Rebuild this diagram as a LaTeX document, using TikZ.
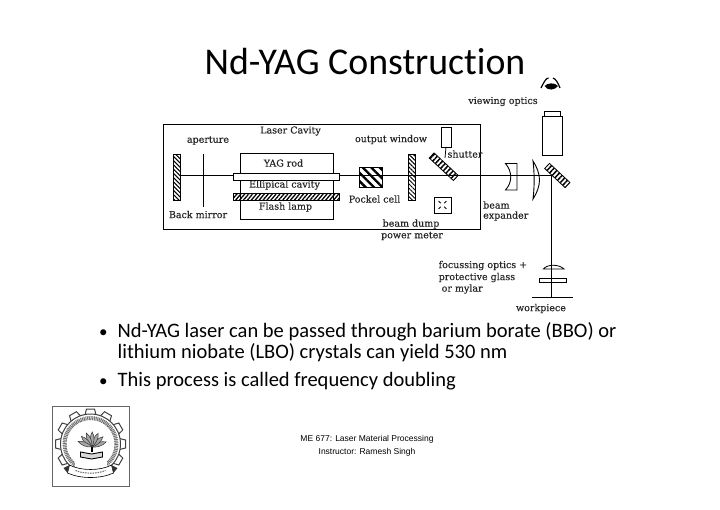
\documentclass[tikz,border=0pt]{standalone}
\usepackage{fontspec}
\setmainfont{Carlito}[Ligatures=NoCommon]
\newfontfamily\figfont{DejaVu Serif}[FakeBold=0.25]
\newfontfamily\footfont{Liberation Sans}
\usetikzlibrary{patterns.meta,calc}
\tikzset{
  figlabel/.style={font=\figfont\fontsize{9.5}{11}\selectfont,inner sep=0pt,text=black!85,align=left},
  bodyline/.style={anchor=base west,inner sep=0pt,font=\fontsize{20.5}{24}\selectfont},
  bulletmark/.style={anchor=base west,inner sep=0pt,font=\fontsize{17}{21}\selectfont},
  part/.style={draw,line width=0.8pt,inner sep=0pt,outer sep=0pt},
  mirror/.style={part,pattern={Lines[angle=-45,distance=3pt,line width=1pt]}},
  tilted/.style={part,minimum width=33pt,minimum height=7pt,rotate=-43,
    pattern={Lines[angle=47,distance=3.6pt,line width=1.5pt]}},
}
\begin{document}
\begin{tikzpicture}[x=1pt,y=-1pt]
  \useasboundingbox (0,0) rectangle (720,509);

  \node[font=\fontsize{37.8}{42}\selectfont,inner sep=0pt] (title) at (365,62) {Nd-YAG Construction};

  % cavity
  \draw[line width=0.8pt] (163.5,124) rectangle (480,229);
  \draw[line width=0.8pt] (240,153) rectangle (333,219);
  \node[mirror,minimum width=7pt,minimum height=46pt] (backmirror) at (177,177.5) {};
  \node[mirror,minimum width=7pt,minimum height=46pt] (window) at (411.5,177) {};
  \node[part,fill=white,minimum width=106pt,minimum height=7pt] (rod) at (286,176.5) {};
  \node[part,minimum width=106pt,minimum height=7pt,
    pattern={Lines[angle=50,distance=3pt,line width=1.3pt]}] (lamp) at (286,197) {};
  \node[part,minimum width=23pt,minimum height=20pt,
    pattern={Lines[angle=-45,distance=6pt,line width=2.4pt]}] (pockel) at (370.5,177) {};
  \node[part,minimum width=10pt,minimum height=20pt] (shutterbox) at (446,137) {};
  \node[tilted] (shutter) at (443.7,166.7) {};
  \node[tilted,minimum width=28pt] (foldmirror) at (557.3,175.5) {};
  \node[part,minimum width=17pt,minimum height=16pt] (dump) at (442.5,205) {};
  \foreach \a in {45,135,225,315}
    \draw[line width=0.8pt] ($(dump)+(\a:2.5)$) -- ($(dump)+(\a:5.5)$);
  \coordinate (beamturn) at (551.7,175.7);
  \coordinate (beamend) at (551.7,297.7);
  \draw[line width=0.8pt] (backmirror.east|-beamturn) -- (rod.west|-beamturn);
  \draw[line width=0.8pt] (rod.east|-beamturn) -- (beamturn) -- (beamend);
  \draw[line width=0.8pt] (203,154) -- (203,207);
  \draw[line width=0.8pt] (shutterbox.south) -- (445,158);

  % beam expander
  \draw[line width=0.9pt] (505.5,163.5) -- (517,163.5) -- (517,190) -- (505.5,190)
    .. controls (512.5,182) and (512.5,172) .. (505.5,163.5) -- cycle;
  \draw[line width=0.9pt] (533,161) .. controls (534.5,172) and (534.5,188) .. (533,199)
    .. controls (537,193) and (539.5,186) .. (539.5,180) .. controls (539.5,174) and (537,167) .. (533,161) -- cycle;

  % viewing optics
  \node[part,minimum width=20pt,minimum height=39pt] (viewbox) at (552,135.5) {};
  \node[part,minimum width=16pt,minimum height=4.5pt,anchor=south] (viewcap) at (viewbox.north) {};
  \draw[line width=1.2pt] (541,88) .. controls (544,82) and (546,78) .. (548.5,78);
  \draw[line width=1.2pt] (560,88) .. controls (558,83) and (556,79) .. (553,78);
  \fill (544.5,86) .. controls (547,83) and (555,82) .. (558,86)
    .. controls (555,90) and (548,91.5) .. (544.5,86) -- cycle;

  % focussing optics
  \draw[line width=0.8pt] (543.5,269) .. controls (547,264) and (559,264) .. (564,269) -- cycle;
  \draw[line width=0.8pt] (539,278.8) rectangle (566,282.3);
  \draw[line width=1.2pt] (532,297.7) -- (573,297.7);

  % labels
  \node[figlabel] (cavitylabel) at (290.5,131) {Laser Cavity};
  \node[figlabel] (aperturelabel) at (208,140.5) {aperture};
  \node[figlabel] (rodlabel) at (283.5,163) {YAG rod};
  \node[figlabel] (cavlabel) at (284.5,185) {Ellipical cavity};
  \node[figlabel] (lamplabel) at (285.5,207) {Flash lamp};
  \node[figlabel] (backlabel) at (198,214.5) {Back mirror};
  \node[figlabel] (windowlabel) at (391,139.5) {output window};
  \node[figlabel] (shutterlabel) at (465,154) {shutter};
  \node[figlabel] (pockellabel) at (374.5,199) {Pockel cell};
  \node[figlabel] (dumplabel) at (411,224) {beam dump};
  \node[figlabel] (meterlabel) at (412,236) {power meter};
  \node[figlabel,anchor=west] (beamlabel) at (483,205) {beam};
  \node[figlabel,anchor=west] (expanderlabel) at (483,216) {expander};
  \node[figlabel] (viewlabel) at (503,101.5) {viewing optics};
  \node[figlabel,anchor=west] (focuslabel) at (438.5,265.5) {focussing optics +};
  \node[figlabel,anchor=west] (glasslabel) at (438.5,277.5) {protective glass};
  \node[figlabel,anchor=west] (mylarlabel) at (441.5,289) {or mylar};
  \node[figlabel] (worklabel) at (541,308.5) {workpiece};

  % bullets
  \node[bulletmark] (bulleta) at (99,337) {•};
  \node[bodyline] (linea) at (117.5,337)
    {Nd-YAG laser can be passed through barium borate (BBO) or};
  \node[bodyline] (lineb) at (117.5,358)
    {lithium niobate (LBO) crystals can yield 530 nm};
  \node[bulletmark] (bulletb) at (99,386) {•};
  \node[bodyline] (linec) at (117.5,386)
    {This process is called frequency doubling};

  % footer
  \node[font=\footfont\fontsize{8.5}{13}\selectfont,align=center,inner sep=0pt] (footer) at (367,446)
    {ME 677: Laser Material Processing\\Instructor: Ramesh Singh};

  % logo
  \draw[black!60,line width=0.8pt] (52,406.5) rectangle (129.5,486);
  \begin{scope}[shift={(90.5,444)}]
    \foreach \a in {-120,-90,...,120}
      \draw[black!75,line width=1pt,fill=white,rotate=\a] (-5.5,-29) -- (-4,-35) -- (4,-35) -- (5.5,-29);
    \draw[black!75,line width=1pt,fill=white] (0,0) circle (30);
    \draw[black!55,line width=4pt,dash pattern=on 1pt off 0.7pt] (0,0) circle (26);
    \fill[white] (-16,18) rectangle (16,32);
    \begin{scope}[shift={(1.5,3)}]
      \foreach \a in {-70,-47,...,70}
        \draw[black!80,line width=0.5pt,fill=black!35,rotate=\a] (0,0) .. controls (-2.5,-5) and (-2.5,-11) .. (0,-15)
          .. controls (2.5,-11) and (2.5,-5) .. (0,0) -- cycle;
      \draw[black,line width=1.2pt] (0,0) -- (0,5);
    \end{scope}
    \draw[black,line width=0.9pt,fill=black!15] (-10,8) -- (1,10) -- (12,8) -- (12,13) -- (1,15) -- (-10,13) -- cycle;
    \draw[black,line width=0.6pt,fill=white] (-21,21) .. controls (-10,27) and (10,27) .. (21,21)
      -- (23,29) .. controls (10,35) and (-10,35) .. (-23,29) -- cycle;
    \fill[black!80] (-21,21) -- (-27,24) -- (-23,29) -- cycle;
    \fill[black!80] (21,21) -- (27,24) -- (23,29) -- cycle;
    \draw[black!60,line width=1pt,dash pattern=on 1.5pt off 1pt] (-15,26.5) .. controls (-7,30) and (7,30) .. (15,26.5);
  \end{scope}
\end{tikzpicture}
\end{document}
